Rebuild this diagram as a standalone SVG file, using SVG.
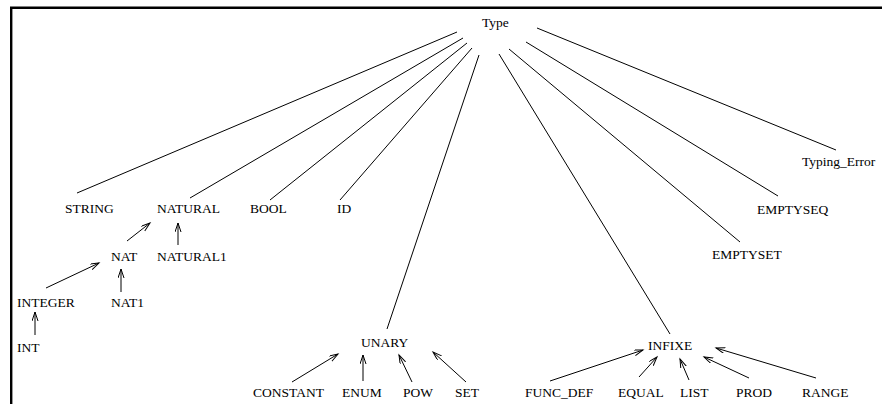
<svg xmlns="http://www.w3.org/2000/svg" width="882" height="404" viewBox="0 0 882 404">
  <style>
    text { font-family: "Liberation Serif", "Times New Roman", serif; font-size: 13.5px; fill: #000; }
    .edge { stroke: #000; stroke-width: 1; fill: none; }
    .arrow { stroke: #000; stroke-width: 1; fill: none; marker-end: url(#head); }
    .frame { stroke: #000; stroke-width: 2.4; fill: none; }
  </style>
  <defs>
    <marker id="head" markerUnits="userSpaceOnUse" markerWidth="12" markerHeight="8" refX="9" refY="3" orient="auto">
      <path d="M0,0 L9,3 L0,6" fill="none" stroke="#000" stroke-width="1"/>
    </marker>
  </defs>

  <rect width="882" height="404" fill="#fff"/>
  <!-- frame: top and left edges -->
  <path class="frame" d="M11.2,404 L11.2,7.7 L882,7.7"/>

  <!-- connectors -->
  <g id="connectors">
    <!-- Type to its direct subtypes -->
    <line class="edge" x1="457" y1="32" x2="77" y2="193"/>
    <line class="edge" x1="463" y1="38" x2="190" y2="198"/>
    <line class="edge" x1="467" y1="43" x2="270" y2="200"/>
    <line class="edge" x1="472" y1="48" x2="340" y2="200"/>
    <line class="edge" x1="479" y1="55" x2="387" y2="329"/>
    <line class="edge" x1="499" y1="54" x2="670" y2="334"/>
    <line class="edge" x1="509" y1="49" x2="740" y2="242"/>
    <line class="edge" x1="526" y1="42" x2="778" y2="196"/>
    <line class="edge" x1="537" y1="28" x2="836" y2="150"/>
    <!-- numeric chain -->
    <line class="arrow" x1="127" y1="241" x2="150" y2="223"/>
    <line class="arrow" x1="178" y1="245" x2="178" y2="223"/>
    <line class="arrow" x1="46" y1="288" x2="99" y2="263"/>
    <line class="arrow" x1="121" y1="292" x2="121" y2="269"/>
    <line class="arrow" x1="35" y1="335" x2="35" y2="312"/>
    <!-- unary constructors -->
    <line class="arrow" x1="292" y1="382" x2="338" y2="354"/>
    <line class="arrow" x1="363" y1="381" x2="363" y2="355"/>
    <line class="arrow" x1="412" y1="382" x2="399" y2="355"/>
    <line class="arrow" x1="466" y1="382" x2="433" y2="352"/>
    <!-- infix constructors -->
    <line class="arrow" x1="550" y1="381" x2="643" y2="350"/>
    <line class="arrow" x1="639" y1="377" x2="657" y2="357"/>
    <line class="arrow" x1="689" y1="380" x2="680" y2="359"/>
    <line class="arrow" x1="749" y1="378" x2="704" y2="357"/>
    <line class="arrow" x1="816" y1="378" x2="716" y2="348"/>
  </g>

  <g id="n-type"><text x="482" y="27">Type</text></g>
  <g id="n-typing-error"><text x="802" y="166">Typing_Error</text></g>

  <g id="n-string"><text x="65" y="213">STRING</text></g>
  <g id="n-natural"><text x="157" y="213">NATURAL</text></g>
  <g id="n-bool"><text x="250" y="213">BOOL</text></g>
  <g id="n-id"><text x="337" y="213">ID</text></g>
  <g id="n-emptyseq"><text x="757" y="214">EMPTYSEQ</text></g>

  <g id="n-nat"><text x="111" y="261">NAT</text></g>
  <g id="n-natural1"><text x="157" y="261">NATURAL1</text></g>
  <g id="n-emptyset"><text x="712" y="259">EMPTYSET</text></g>

  <g id="n-integer"><text x="17" y="307">INTEGER</text></g>
  <g id="n-nat1"><text x="111" y="307">NAT1</text></g>
  <g id="n-int"><text x="17" y="352">INT</text></g>

  <g id="n-unary"><text x="361" y="347">UNARY</text></g>
  <g id="n-constant"><text x="253" y="397">CONSTANT</text></g>
  <g id="n-enum"><text x="342" y="397">ENUM</text></g>
  <g id="n-pow"><text x="403" y="397">POW</text></g>
  <g id="n-set"><text x="455" y="397">SET</text></g>

  <g id="n-infixe"><text x="648" y="350">INFIXE</text></g>
  <g id="n-func-def"><text x="525" y="397">FUNC_DEF</text></g>
  <g id="n-equal"><text x="618" y="397">EQUAL</text></g>
  <g id="n-list"><text x="680" y="397">LIST</text></g>
  <g id="n-prod"><text x="736" y="397">PROD</text></g>
  <g id="n-range"><text x="802" y="397">RANGE</text></g>
</svg>
